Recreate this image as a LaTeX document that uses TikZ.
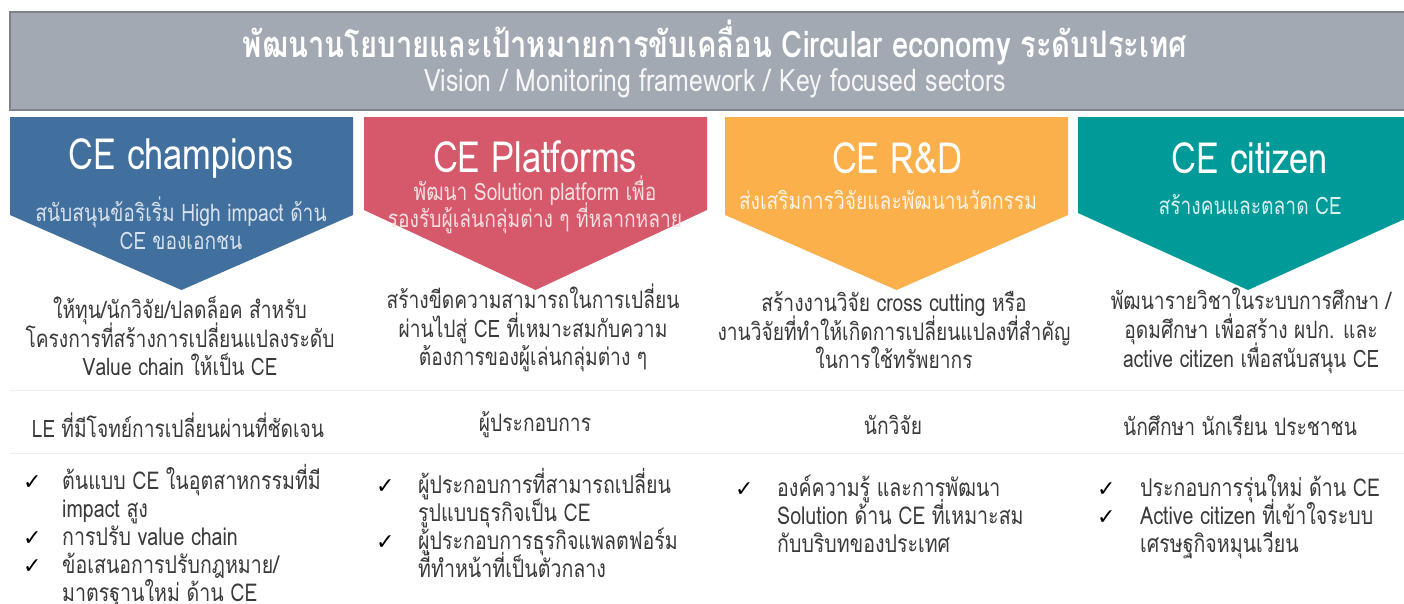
\documentclass[tikz,border=0pt]{standalone}
\usepackage{fontspec}
\setmainfont[Script=Thai,FakeStretch=0.8]{Loma}
\newfontfamily\symfont{DejaVu Sans}
\definecolor{hdr}{HTML}{A3A9B3}
\definecolor{hdrline}{HTML}{7F8288}
\definecolor{cblue}{HTML}{41709F}
\definecolor{cred}{HTML}{D6596B}
\definecolor{corange}{HTML}{FCB04C}
\definecolor{cteal}{HTML}{009A98}
\definecolor{txt}{HTML}{3A3A3A}
\definecolor{sepc}{HTML}{EEEEEE}
\newcommand{\ck}[1]{\makebox[#1][l]{\symfont\bfseries\fontsize{22}{28}\selectfont\color{black}✓}}
\newcommand{\sm}[1]{\smash{#1}}
\newcommand{\tightls}{\setlength{\lineskiplimit}{-100pt}}
\begin{document}
\begin{tikzpicture}[x=1pt,y=-1pt,
  every node/.style={inner sep=0pt},
  ttl/.style={text=white, font=\fontsize{43}{45}\selectfont},
  sub/.style={align=center, font=\fontsize{24}{27.5}\selectfont\tightls},
  body/.style={align=center, text=txt, font=\fontsize{24}{28.7}\selectfont\tightls},
  who/.style={text=txt, font=\fontsize{24}{29}\selectfont},
  chk/.style={anchor=north west, text=txt, font=\fontsize{24.5}{28}\selectfont}]
\useasboundingbox (0,0) rectangle (1404,603);
\clip (0,0) rectangle (1404,603);
\fill[white] (0,0) rectangle (1404,603);
% header
\draw[fill=hdr, draw=hdrline, line width=1.5pt] (10,12) rectangle (1420,110);
\node[text=white, font=\bfseries\fontsize{36.5}{38}\selectfont] (title) at (715,43)
  {พัฒนานโยบายและเป้าหมายการขับเคลื่อน Circular economy ระดับประเทศ};
\node[text=white!90!hdr, font=\fontsize{31}{34}\selectfont] (subtitle) at (715,83)
  {Vision / Monitoring framework / Key focused sectors};
% chevrons
\fill[cblue] (10,117) -- (353,117) -- (353,215) -- (181.5,290) -- (10,215) -- cycle;
\fill[cred] (364,117) -- (707,117) -- (707,210) -- (535.5,290) -- (364,210) -- cycle;
\fill[corange] (725,117) -- (1068,117) -- (1068,215) -- (896.5,290) -- (725,215) -- cycle;
\fill[cteal] (1078,117) -- (1418,117) -- (1418,213) -- (1248,290) -- (1078,213) -- cycle;
% chevron titles
\node[ttl] (t1) at (181,158) {CE champions};
\node[ttl] (t2) at (535,157) {CE Platforms};
\node[ttl] (t3) at (897,158) {CE R\&D};
\node[ttl] (t4) at (1250,158) {CE citizen};
\node[sub, text=white!80!cblue] (s1) at (181,223) {สนับสนุนข้อริเริ่ม High impact ด้าน\\CE ของเอกชน};
\node[sub, text=white!80!cred] (s2) at (535,205) {พัฒนา Solution platform เพื่อ\\รองรับผู้เล่นกลุ่มต่าง ๆ ที่หลากหลาย};
\node[sub, text=white!85!corange] (s3) at (888,200) {ส่งเสริมการวิจัยและพัฒนานวัตกรรม};
\node[sub, text=white!85!cteal] (s4) at (1250,205) {สร้างคนและตลาด CE};
% body text
\node[body] (b1) at (180,336) {ให้ทุน/นักวิจัย/ปลดล็อค สำหรับ\\โครงการที่สร้างการเปลี่ยนแปลงระดับ\\Value chain ให้เป็น CE};
\node[body] (b2) at (533,328) {สร้างขีดความสามารถในการเปลี่ยน\\ผ่านไปสู่ CE ที่เหมาะสมกับความ\\ต้องการของผู้เล่นกลุ่มต่าง ๆ};
\node[body] (b3) at (894,330) {สร้างงานวิจัย cross cutting หรือ\\งานวิจัยที่ทำให้เกิดการเปลี่ยนแปลงที่สำคัญ\\ในการใช้ทรัพยากร};
\node[body] (b4) at (1251,331) {พัฒนารายวิชาในระบบการศึกษา /\\อุดมศึกษา เพื่อสร้าง ผปก. และ\\active citizen เพื่อสนับสนุน CE};
% separators
\draw[sepc, line width=1pt] (10,390) -- (1404,390);
\draw[sepc, line width=1pt] (10,453) -- (1404,453);
% target groups
\node[who] (w1) at (178,425) {LE ที่มีโจทย์การเปลี่ยนผ่านที่ชัดเจน};
\node[who] (w2) at (535,425) {ผู้ประกอบการ};
\node[who] (w3) at (893,425) {นักวิจัย};
\node[who] (w4) at (1240,425) {นักศึกษา นักเรียน ประชาชน};
% checklists
\node[chk] (k1) at (23,470) {\begin{tabular}{@{}l@{}l@{}}
\ck{39pt} & \sm{ต้นแบบ CE ในอุตสาหกรรมที่มี}\\
 & \sm{impact สูง}\\
\ck{39pt} & \sm{การปรับ value chain}\\
\ck{39pt} & \sm{ข้อเสนอการปรับกฎหมาย/}\\
 & \sm{มาตรฐานใหม่ ด้าน CE}
\end{tabular}};
\node[chk] (k2) at (376,474) {\begin{tabular}{@{}l@{}l@{}}
\ck{42pt} & \sm{ผู้ประกอบการที่สามารถเปลี่ยน}\\
 & \sm{รูปแบบธุรกิจเป็น CE}\\
\ck{42pt} & \sm{ผู้ประกอบการธุรกิจแพลตฟอร์ม}\\
 & \sm{ที่ทำหน้าที่เป็นตัวกลาง}
\end{tabular}};
\node[chk] (k3) at (735,477) {\begin{tabular}{@{}l@{}l@{}}
\ck{42pt} & \sm{องค์ความรู้ และการพัฒนา}\\
 & \sm{Solution ด้าน CE ที่เหมาะสม}\\
 & \sm{กับบริบทของประเทศ}
\end{tabular}};
\node[chk] (k4) at (1097,477) {\begin{tabular}{@{}l@{}l@{}}
\ck{43pt} & \sm{ประกอบการรุ่นใหม่ ด้าน CE}\\
\ck{43pt} & \sm{Active citizen ที่เข้าใจระบบ}\\
 & \sm{เศรษฐกิจหมุนเวียน}
\end{tabular}};
\end{tikzpicture}
\end{document}
